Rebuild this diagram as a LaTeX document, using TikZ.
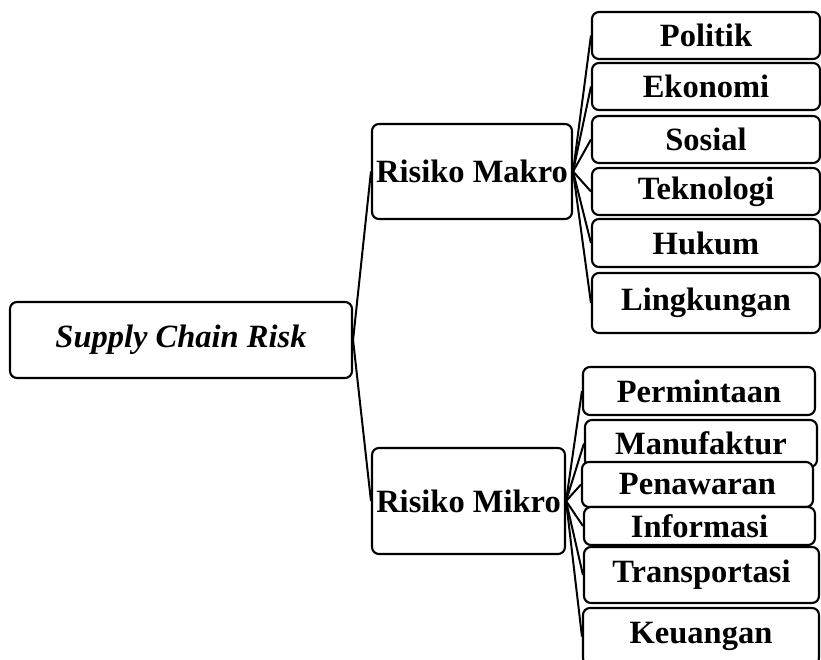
\documentclass[tikz,border=0pt]{standalone}
\usepackage{fontspec}
\setmainfont{Liberation Serif}
\usetikzlibrary{backgrounds}
\begin{document}
\begin{tikzpicture}[x=1pt,y=-1pt,
  box/.style={draw=black, line width=2.1pt, rounded corners=7pt, fill=white,
    inner sep=0pt, align=center, font=\bfseries\fontsize{32.5}{38}\selectfont},
  link/.style={draw=black, line width=2pt}]
\clip (0,0) rectangle (821,660);
% root
\node[box, minimum width=342pt, minimum height=76pt] (scr) at (181,340) {\itshape Supply Chain Risk};
% level 1
\node[box, minimum width=200pt, minimum height=95pt] (makro) at (472,171.5) {Risiko Makro};
\node[box, minimum width=193pt, minimum height=106pt] (mikro) at (468.5,501) {Risiko Mikro};
% makro children
\node[box, minimum width=228pt, minimum height=47pt] (politik) at (706,35.5) {Politik};
\node[box, minimum width=228pt, minimum height=47pt] (ekonomi) at (706,86.5) {Ekonomi};
\node[box, minimum width=228pt, minimum height=47pt] (sosial) at (706,139.5) {Sosial};
\node[box, minimum width=228pt, minimum height=47pt] (teknologi) at (706,191.5) {Teknologi};
\node[box, minimum width=228pt, minimum height=48pt] (hukum) at (706,243) {Hukum};
\node[box, minimum width=228pt, minimum height=60pt] (lingkungan) at (706,303) {Lingkungan};
% mikro children
\node[box, minimum width=232pt, minimum height=48pt] (permintaan) at (699,391) {Permintaan};
\node[box, minimum width=232pt, minimum height=47pt] (manufaktur) at (701,443.5) {Manufaktur};
\node[box, minimum width=231pt, minimum height=45pt] (penawaran) at (697.5,484.5) {Penawaran};
\node[box, minimum width=231pt, minimum height=38pt] (informasi) at (699.5,526) {Informasi};
\node[box, minimum width=235pt, minimum height=56pt] (transportasi) at (701.5,575) {Transportasi};
\node[box, minimum width=236pt, minimum height=57pt] (keuangan) at (701,636.5) {Keuangan};
% connectors
\begin{scope}[on background layer]
\draw[link] (scr.east) -- (makro.west);
\draw[link] (scr.east) -- (mikro.west);
\foreach \c in {politik,ekonomi,sosial,teknologi,hukum,lingkungan}
  \draw[link] (makro.east) -- (\c.west);
\foreach \c in {permintaan,manufaktur,penawaran,informasi,transportasi,keuangan}
  \draw[link] (mikro.east) -- (\c.west);
\end{scope}
\end{tikzpicture}
\end{document}
